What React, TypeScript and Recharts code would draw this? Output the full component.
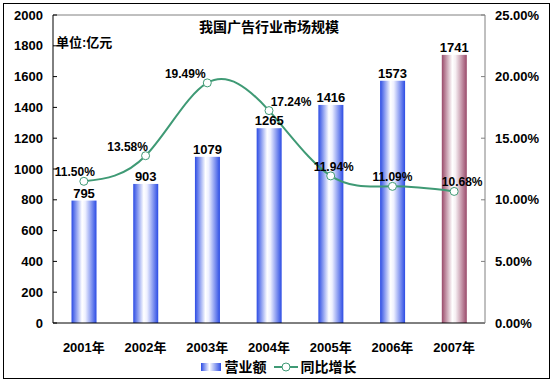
import {
  Bar,
  ComposedChart,
  LabelList,
  Line,
  ReferenceLine,
  XAxis,
  YAxis,
} from "recharts";

const years = ["2001年", "2002年", "2003年", "2004年", "2005年", "2006年", "2007年"];
const revenue = [795, 903, 1079, 1265, 1416, 1573, 1741];
const growth = [11.5, 13.58, 19.49, 17.24, 11.94, 11.09, 10.68];
const leftTicks = [0, 200, 400, 600, 800, 1000, 1200, 1400, 1600, 1800, 2000];
const rightTicks = [0, 5, 10, 15, 20, 25];
// manual nudges of the growth labels, as in the original
const growthLabelDx = [-9, -18, -22, 22, 3, 0, 8];

const FONT = '"Liberation Sans", Arial, "Noto Sans CJK SC", sans-serif';
const GREEN = "#3f9a75";

const data = years.map((year, i) => ({
  year,
  revenue: revenue[i],
  growth: growth[i],
  forecast: i === years.length - 1,
}));

const tickStyle = { fill: "#000", fontSize: 13, fontWeight: 700, fontFamily: FONT };

function GrowthLabel(props: any) {
  const { x, y, value, index } = props;
  return (
    <text
      x={x + (growthLabelDx[index] ?? 0)}
      y={y - 5}
      textAnchor="middle"
      fill="#000"
      fontSize={12}
      fontWeight={700}
      fontFamily={FONT}
    >
      {Number(value).toFixed(2)}%
    </text>
  );
}

function RevenueBar(props: any) {
  const { x, y, width, height, payload } = props;
  const fill = payload.forecast ? "url(#gradMaroon)" : "url(#gradBlue)";
  return <rect x={x} y={y} width={width} height={height} fill={fill} />;
}

export default function App() {
  return (
    <div
      style={{
        position: "absolute",
        left: 0,
        top: 0,
        width: 555,
        height: 384,
        background: "#fff",
        fontFamily: FONT,
      }}
    >
      <ComposedChart
        width={555}
        height={384}
        data={data}
        margin={{ top: 15, right: 0, left: 0, bottom: 26 }}
        barCategoryGap="30%"
      >
        <defs>
          <linearGradient id="gradBlue" x1="0" y1="0" x2="1" y2="0">
            <stop offset="0%" stopColor="#2c4ce4" />
            <stop offset="42%" stopColor="#ffffff" />
            <stop offset="55%" stopColor="#eef0ff" />
            <stop offset="100%" stopColor="#2c4ce4" />
          </linearGradient>
          <linearGradient id="gradMaroon" x1="0" y1="0" x2="1" y2="0">
            <stop offset="0%" stopColor="#9a4a6a" />
            <stop offset="42%" stopColor="#ffffff" />
            <stop offset="55%" stopColor="#f6eef2" />
            <stop offset="100%" stopColor="#9a4a6a" />
          </linearGradient>
        </defs>
        <XAxis
          dataKey="year"
          height={35}
          tick={tickStyle}
          tickLine={false}
          tickSize={0}
          tickMargin={20}
          axisLine={{ stroke: "#000" }}
        />
        <YAxis
          yAxisId="left"
          width={53}
          domain={[0, 2000]}
          ticks={leftTicks}
          interval={0}
          tick={tickStyle}
          tickSize={-4}
          tickMargin={14}
          tickLine={{ stroke: "#000" }}
          axisLine={{ stroke: "#000" }}
        />
        <YAxis
          yAxisId="right"
          orientation="right"
          width={70}
          domain={[0, 25]}
          ticks={rightTicks}
          interval={0}
          tick={tickStyle}
          tickFormatter={(v) => `${Number(v).toFixed(2)}%`}
          tickSize={-4}
          tickMargin={14}
          tickLine={{ stroke: "#808080" }}
          axisLine={{ stroke: "#808080" }}
        />
        <ReferenceLine yAxisId="left" y={2000} stroke="#808080" />
        <Bar
          yAxisId="left"
          dataKey="revenue"
          maxBarSize={25}
          shape={<RevenueBar />}
          isAnimationActive={false}
        >
          <LabelList
            dataKey="revenue"
            position="top"
            offset={3}
            fill="#000"
            fontSize={13}
            fontWeight={700}
            fontFamily={FONT}
          />
        </Bar>
        <Line
          yAxisId="right"
          type="natural"
          dataKey="growth"
          stroke={GREEN}
          strokeWidth={2}
          dot={{ r: 4, fill: "#fff", stroke: GREEN, strokeWidth: 1 }}
          activeDot={false}
          isAnimationActive={false}
        >
          <LabelList dataKey="growth" content={<GrowthLabel />} />
        </Line>
      </ComposedChart>

      <div
        style={{
          position: "absolute",
          left: 0,
          top: 18,
          width: 538,
          textAlign: "center",
          fontSize: 14,
          fontWeight: 700,
          lineHeight: "18px",
        }}
      >
        我国广告行业市场规模
      </div>
      <div
        style={{
          position: "absolute",
          left: 56,
          top: 35,
          fontSize: 13,
          fontWeight: 700,
          lineHeight: "16px",
        }}
      >
        单位:亿元
      </div>

      <div
        style={{
          position: "absolute",
          left: 0,
          top: 358,
          width: 555,
          display: "flex",
          justifyContent: "center",
          alignItems: "center",
          fontSize: 14,
          fontWeight: 700,
          lineHeight: "18px",
        }}
      >
        <svg width={24} height={10} style={{ marginRight: 2 }}>
          <defs>
            <linearGradient id="legBlue" x1="0" y1="0" x2="1" y2="0">
              <stop offset="0%" stopColor="#2c4ce4" />
              <stop offset="42%" stopColor="#ffffff" />
              <stop offset="100%" stopColor="#2c4ce4" />
            </linearGradient>
          </defs>
          <rect x={2} y={1} width={20} height={8} fill="url(#legBlue)" />
        </svg>
        <span style={{ marginRight: 6 }}>营业额</span>
        <svg width={26} height={10} style={{ marginRight: 2 }}>
          <line x1={1} y1={5} x2={25} y2={5} stroke={GREEN} strokeWidth={2} />
          <circle cx={13} cy={5} r={4} fill="#fff" stroke={GREEN} strokeWidth={1} />
        </svg>
        <span>同比增长</span>
      </div>

      <div
        style={{
          position: "absolute",
          left: 3,
          top: 3,
          width: 545,
          height: 374,
          border: "1px solid #000",
          pointerEvents: "none",
        }}
      />
    </div>
  );
}
